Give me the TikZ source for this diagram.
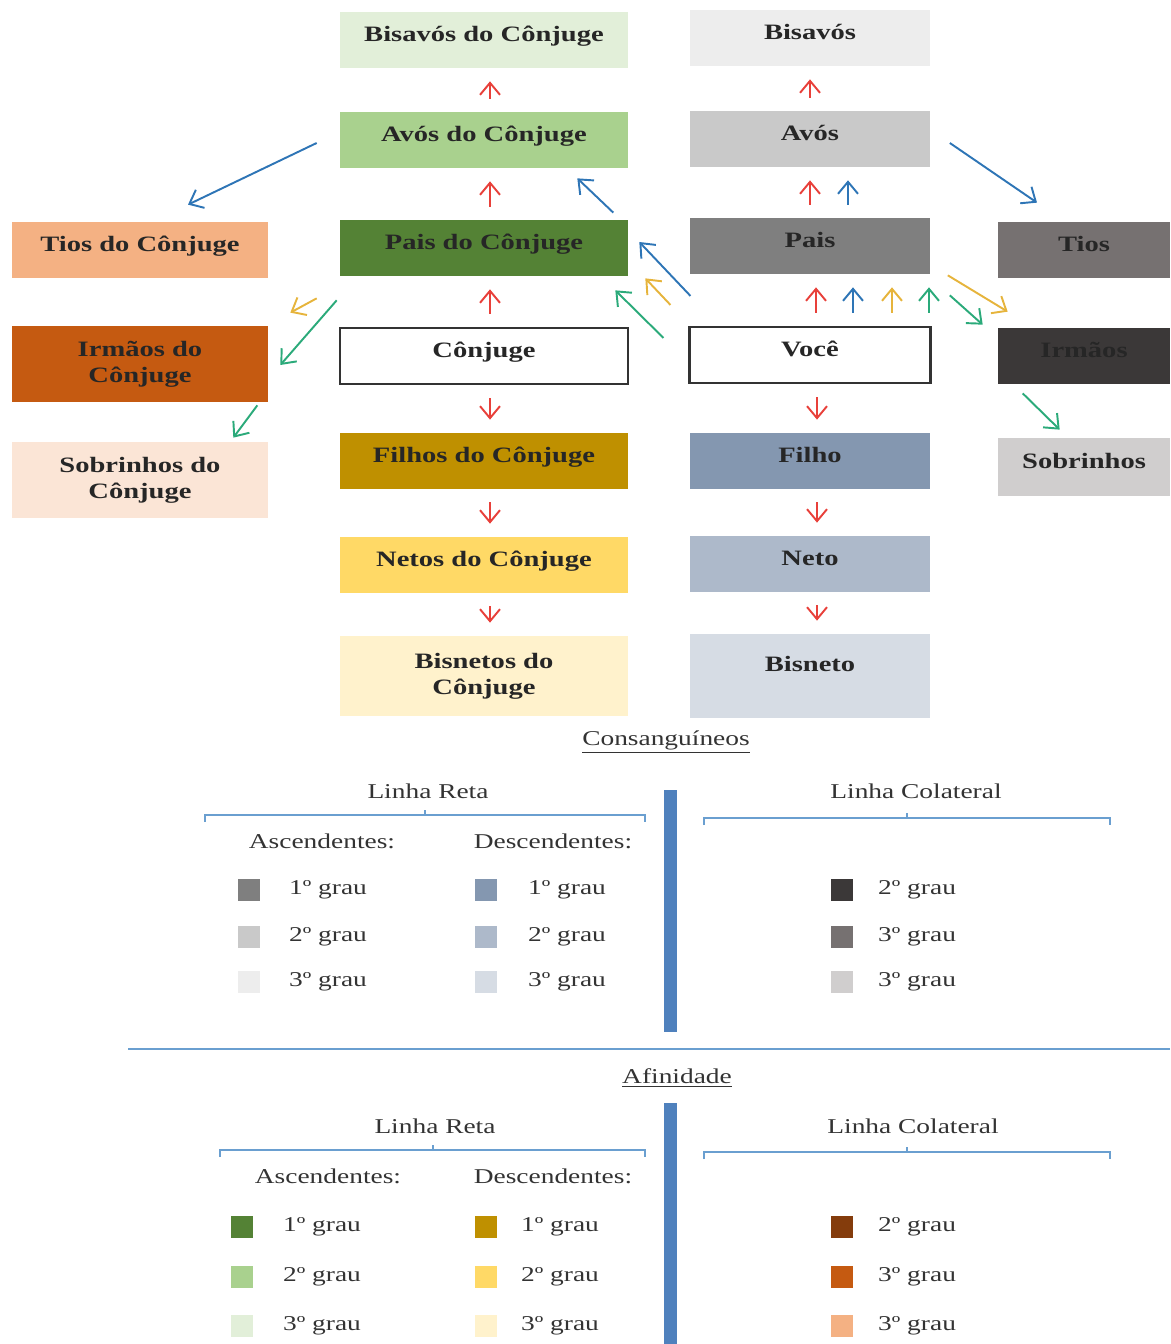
\documentclass[tikz,border=0pt]{standalone}
\usepackage{fontspec}
\setmainfont{Liberation Serif}[FakeStretch=1.3]
\usetikzlibrary{arrows.meta,calc}

% cores das caixas
\definecolor{csAsc1}{HTML}{7F7F7F}
\definecolor{csAsc2}{HTML}{C9C9C9}
\definecolor{csAsc3}{HTML}{EDEDED}
\definecolor{csDes1}{HTML}{8497B0}
\definecolor{csDes2}{HTML}{ADB9CA}
\definecolor{csDes3}{HTML}{D6DCE4}
\definecolor{csCol1}{HTML}{3B3838}
\definecolor{csCol2}{HTML}{767171}
\definecolor{csCol3}{HTML}{D0CECE}
\definecolor{afAsc1}{HTML}{548235}
\definecolor{afAsc2}{HTML}{A9D18E}
\definecolor{afAsc3}{HTML}{E2EFD9}
\definecolor{afDes1}{HTML}{BF9000}
\definecolor{afDes2}{HTML}{FFD966}
\definecolor{afDes3}{HTML}{FFF2CC}
\definecolor{afCol1}{HTML}{843C0C}
\definecolor{afCol2}{HTML}{C55A11}
\definecolor{afCol3}{HTML}{F4B183}
\definecolor{afCol4}{HTML}{FBE5D6}
% cores das setas
\definecolor{setaverm}{HTML}{E8403A}
\definecolor{setaazul}{HTML}{2E75B6}
\definecolor{setaamar}{HTML}{E6B43C}
\definecolor{setaverd}{HTML}{2BAA7A}
\definecolor{barra}{HTML}{4F81BD}
\definecolor{linhaaz}{HTML}{6A9FD0}

\tikzset{
  caixa/.style={rectangle, minimum height=1.12cm, align=center, inner sep=2pt,
    text height=0.3cm, text depth=0.25cm,
    font=\fontsize{12.5}{15}\selectfont\bfseries, text=black!85},
  duas/.style={text height=, text depth=},
  colc/.style={minimum width=5.76cm},
  colv/.style={minimum width=4.82cm},
  coll/.style={minimum width=5.12cm},
  colr/.style={minimum width=3.44cm},
  ponta/.style={line width=1.1pt, -{Straight Barb[length=2.4mm,width=4mm]}},
  seta/.style={ponta, shorten <=0.26cm, shorten >=0.26cm},
  legenda/.style={font=\fontsize{12}{14}\selectfont, text=black!80},
  quad/.style={rectangle, minimum size=0.44cm, inner sep=0pt},
  chave/.style={draw=linhaaz, line width=0.7pt}
}

\begin{document}
\begin{tikzpicture}[x=0.02cm, y=-0.02cm]
\useasboundingbox (0,0) rectangle (1170,1344);

% Linha do cônjuge
\node[caixa, colc, fill=afAsc3] (bisavosc) at (484,40) {Bisavós do Cônjuge};
\node[caixa, colc, fill=afAsc2] (avosc) at (484,140) {Avós do Cônjuge};
\node[caixa, colc, fill=afAsc1] (paisc) at (484,248) {Pais do Cônjuge};
\node[caixa, colc, fill=white, draw=black!80, line width=1.2pt] (conj) at (484,356) {Cônjuge};
\node[caixa, colc, fill=afDes1] (filhosc) at (484,461) {Filhos do Cônjuge};
\node[caixa, colc, fill=afDes2] (netosc) at (484,565) {Netos do Cônjuge};
\node[caixa, duas, colc, fill=afDes3, minimum height=1.6cm] (bisnetosc) at (484,676) {Bisnetos do\\Cônjuge};

% Linha de você
\node[caixa, colv, fill=csAsc3] (bisavos) at (810,38) {Bisavós};
\node[caixa, colv, fill=csAsc2] (avos) at (810,139) {Avós};
\node[caixa, colv, fill=csAsc1] (pais) at (810,246) {Pais};
\node[caixa, colv, fill=white, draw=black!80, line width=1.2pt] (voce) at (810,355) {Você};
\node[caixa, colv, fill=csDes1] (filho) at (810,461) {Filho};
\node[caixa, colv, fill=csDes2] (neto) at (810,564) {Neto};
\node[caixa, colv, fill=csDes3, minimum height=1.68cm, text depth=0.5cm] (bisneto) at (810,676) {Bisneto};

% Colaterais
\node[caixa, colr, fill=csCol2] (tios) at (1084,250) {Tios};
\node[caixa, colr, fill=csCol1] (irmaos) at (1084,356) {Irmãos};
\node[caixa, colr, fill=csCol3, minimum height=1.16cm] (sobrinhos) at (1084,467) {Sobrinhos};
\node[caixa, coll, fill=afCol3] (tiosc) at (140,250) {Tios do Cônjuge};
\node[caixa, duas, coll, fill=afCol2, minimum height=1.52cm] (irmaosc) at (140,364) {Irmãos do\\Cônjuge};
\node[caixa, duas, coll, fill=afCol4, minimum height=1.52cm] (sobrinhosc) at (140,480) {Sobrinhos do\\Cônjuge};

% Setas verticais
\draw[seta, setaverm] ([xshift=0.12cm]avosc.north) -- ([xshift=0.12cm]bisavosc.south);
\draw[seta, setaverm] ([xshift=0.12cm]paisc.north) -- ([xshift=0.12cm]avosc.south);
\draw[seta, setaverm] ([xshift=0.12cm]conj.north) -- ([xshift=0.12cm]paisc.south);
\draw[seta, setaverm] ([xshift=0.12cm]conj.south) -- ([xshift=0.12cm]filhosc.north);
\draw[seta, setaverm] ([xshift=0.12cm]filhosc.south) -- ([xshift=0.12cm]netosc.north);
\draw[seta, setaverm] ([xshift=0.12cm]netosc.south) -- ([xshift=0.12cm]bisnetosc.north);

\draw[seta, setaverm] (avos.north) -- (bisavos.south);
\draw[seta, setaverm] (pais.north) -- (avos.south);
\draw[seta, setaazul] ([xshift=0.76cm]pais.north) -- ([xshift=0.76cm]avos.south);
\draw[seta, setaverm] ([xshift=0.12cm]voce.north) -- ([xshift=0.12cm]pais.south);
\draw[seta, setaazul] ([xshift=0.86cm]voce.north) -- ([xshift=0.86cm]pais.south);
\draw[seta, setaamar] ([xshift=1.64cm]voce.north) -- ([xshift=1.64cm]pais.south);
\draw[seta, setaverd] ([xshift=2.38cm]voce.north) -- ([xshift=2.38cm]pais.south);
\draw[seta, setaverm] ([xshift=0.14cm]voce.south) -- ([xshift=0.14cm]filho.north);
\draw[seta, setaverm] ([xshift=0.14cm]filho.south) -- ([xshift=0.14cm]neto.north);
\draw[seta, setaverm] ([xshift=0.14cm]neto.south) -- ([xshift=0.14cm]bisneto.north);

% Setas diagonais
\draw[ponta, setaazul] ($(avosc.west)+(-23,3)$) -- ($(tiosc.north)+(48,-17)$);
\draw[ponta, setaazul] ($(paisc.north east)+(-15,-7)$) -- ($(avosc.south east)+(-51,10)$);
\draw[ponta, setaazul] ($(voce.north west)+(2,-30)$) -- ($(paisc.east)+(11,-6)$);
\draw[ponta, setaamar] ($(voce.north west)+(-18,-21)$) -- ($(paisc.south east)+(17,2)$);
\draw[ponta, setaverd] ($(voce.north west)+(-25,12)$) -- ($(paisc.south east)+(-13,14)$);
\draw[ponta, setaamar] ($(paisc.south west)+(-23,22)$) -- ($(irmaosc.north east)+(22,-13)$);
\draw[ponta, setaverd] ($(paisc.south west)+(-3,24)$) -- ($(irmaosc.east)+(12,1)$);
\draw[ponta, setaverd] ($(irmaosc.south east)+(-11,3)$) -- ($(sobrinhosc.north east)+(-35,-4)$);
\draw[ponta, setaazul] ($(avos.east)+(19,4)$) -- ($(tios.north)+(-47,-19)$);
\draw[ponta, setaamar] ($(pais.south east)+(17,1)$) -- ($(irmaos.north west)+(10,-16)$);
\draw[ponta, setaverd] ($(pais.south east)+(19,21)$) -- ($(irmaos.north west)+(-15,-3)$);
\draw[ponta, setaverd] ($(irmaos.south west)+(25,9)$) -- ($(sobrinhos.north west)+(62,-8)$);

% Legenda: consanguíneos
\node[legenda] (tconsang) at (666,742) {\underline{Consanguíneos}};
\fill[barra] (664,790) rectangle (677,1032);
\node[legenda] (retaA) at (428,791) {Linha Reta};
\draw[chave] (205,822) -- (205,815) -- (645,815) -- (645,822) (425,815) -- (425,810);
\node[legenda] (colA) at (916,791) {Linha Colateral};
\draw[chave] (704,825) -- (704,818) -- (1110,818) -- (1110,825) (907,818) -- (907,813);
\node[legenda] (ascA) at (322,841) {Ascendentes:};
\node[legenda] (desA) at (553,841) {Descendentes:};
\foreach \cor/\txt/\y [count=\i] in {csAsc1/1º/890, csAsc2/2º/937, csAsc3/3º/982} {
  \node[quad, fill=\cor] (qa\i) at (249,\y) {};
  \node[legenda, anchor=west] (ta\i) at (283,\y) {\txt\ grau};
}
\foreach \cor/\txt/\y [count=\i] in {csDes1/1º/890, csDes2/2º/937, csDes3/3º/982} {
  \node[quad, fill=\cor] (qd\i) at (486,\y) {};
  \node[legenda, anchor=west] (td\i) at (522,\y) {\txt\ grau};
}
\foreach \cor/\txt/\y [count=\i] in {csCol1/2º/890, csCol2/3º/937, csCol3/3º/982} {
  \node[quad, fill=\cor] (qc\i) at (842,\y) {};
  \node[legenda, anchor=west] (tc\i) at (872,\y) {\txt\ grau};
}

\draw[linhaaz, line width=1pt] (128,1049) -- (1170,1049);

% Legenda: afinidade
\node[legenda] (tafin) at (677,1078) {\underline{Afinidade}};
\fill[barra] (664,1103) rectangle (677,1344);
\node[legenda] (retaB) at (435,1126) {Linha Reta};
\draw[chave] (220,1157) -- (220,1150) -- (645,1150) -- (645,1157) (433,1150) -- (433,1145);
\node[legenda] (colB) at (913,1126) {Linha Colateral};
\draw[chave] (704,1159) -- (704,1152) -- (1110,1152) -- (1110,1159) (907,1152) -- (907,1147);
\node[legenda] (ascB) at (328,1176) {Ascendentes:};
\node[legenda] (desB) at (553,1176) {Descendentes:};
\foreach \cor/\txt/\y [count=\i] in {afAsc1/1º/1227, afAsc2/2º/1277, afAsc3/3º/1326} {
  \node[quad, fill=\cor] (qb\i) at (242,\y) {};
  \node[legenda, anchor=west] (tb\i) at (277,\y) {\txt\ grau};
}
\foreach \cor/\txt/\y [count=\i] in {afDes1/1º/1227, afDes2/2º/1277, afDes3/3º/1326} {
  \node[quad, fill=\cor] (qe\i) at (486,\y) {};
  \node[legenda, anchor=west] (te\i) at (515,\y) {\txt\ grau};
}
\foreach \cor/\txt/\y [count=\i] in {afCol1/2º/1227, afCol2/3º/1277, afCol3/3º/1326} {
  \node[quad, fill=\cor] (qf\i) at (842,\y) {};
  \node[legenda, anchor=west] (tf\i) at (872,\y) {\txt\ grau};
}
\end{tikzpicture}
\end{document}
